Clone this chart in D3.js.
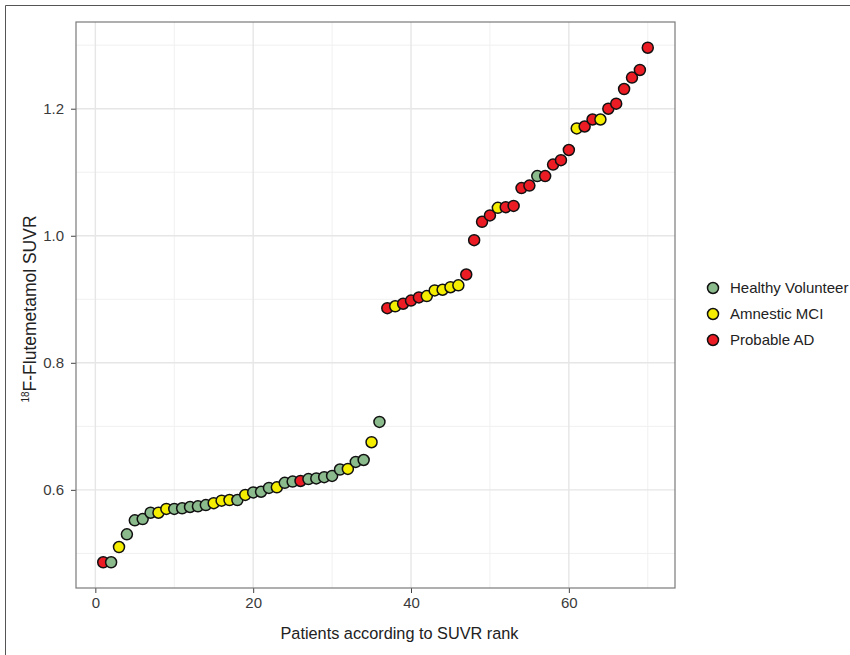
<!DOCTYPE html>
<html>
<head>
<meta charset="utf-8">
<script src="https://cdn.jsdelivr.net/npm/d3@7"></script>
<style>
  html, body { margin: 0; padding: 0; background: #fff; }
  svg { display: block; font-family: "Liberation Sans", Arial, sans-serif; }
</style>
</head>
<body>
<svg id="chart" width="850" height="655"></svg>
<script>
// ---- data ----
const groups = ["Healthy Volunteer", "Amnestic MCI", "Probable AD"];
const groupColors = ["#8bbb8c", "#f5ee00", "#ec1c24"];
// group code per rank: H = healthy, M = MCI, A = AD
const groupCodes = [
  "A","H","M","H","H","H","H","M","M","H",
  "H","H","H","H","M","M","M","H","M","H",
  "H","H","M","H","H","A","H","H","H","H",
  "H","M","H","H","M","H","A","M","A","A",
  "A","M","M","M","M","M","A","A","A","A",
  "M","A","A","A","A","H","A","A","A","A",
  "M","A","A","M","A","A","A","A","A","A"
];
const suvr = [
  0.486, 0.486, 0.510, 0.530, 0.552, 0.554, 0.564, 0.564, 0.570, 0.570,
  0.571, 0.573, 0.574, 0.576, 0.579, 0.583, 0.584, 0.584, 0.592, 0.596,
  0.597, 0.603, 0.604, 0.611, 0.613, 0.614, 0.617, 0.618, 0.620, 0.622,
  0.632, 0.633, 0.644, 0.647, 0.675, 0.707, 0.886, 0.889, 0.893, 0.898,
  0.903, 0.905, 0.914, 0.915, 0.919, 0.922, 0.939, 0.993, 1.022, 1.032,
  1.044, 1.045, 1.047, 1.075, 1.079, 1.094, 1.094, 1.112, 1.119, 1.135,
  1.169, 1.172, 1.183, 1.183, 1.200, 1.208, 1.231, 1.249, 1.261, 1.296
];
const xTicks = [0, 20, 40, 60];
const xMinor = [10, 30, 50, 70];
const yTicks = [0.6, 0.8, 1.0, 1.2];
const yMinor = [0.5, 0.7, 0.9, 1.1, 1.3];
const xTitle = "Patients according to SUVR rank";

const data = suvr.map((v, i) => ({ rank: i + 1, value: v, group: groups["HMA".indexOf(groupCodes[i])] }));

// ---- layout ----
const svg = d3.select("#chart");
const P = { left: 76, right: 675, top: 22, bottom: 588 };

const xExt = d3.extent(data, d => d.rank);
const xPad = (xExt[1] - xExt[0]) * 0.05;
const yExt = d3.extent(data, d => d.value);
const yPad = (yExt[1] - yExt[0]) * 0.05;

const x = d3.scaleLinear().domain([xExt[0] - xPad, xExt[1] + xPad]).range([P.left, P.right]);
const y = d3.scaleLinear().domain([yExt[0] - yPad, yExt[1] + yPad]).range([P.bottom, P.top]);
const color = d3.scaleOrdinal().domain(groups).range(groupColors);

// outer figure frame (left + top)
svg.append("line").attr("x1", 5.5).attr("x2", 5.5).attr("y1", 5.5).attr("y2", 655).attr("stroke", "#555").attr("stroke-width", 1);
svg.append("line").attr("x1", 5.5).attr("x2", 850).attr("y1", 5.5).attr("y2", 5.5).attr("stroke", "#555").attr("stroke-width", 1);

// panel background
svg.append("rect").attr("x", P.left).attr("y", P.top)
  .attr("width", P.right - P.left).attr("height", P.bottom - P.top).attr("fill", "#fff");

const grid = svg.append("g");
// minor grid
grid.selectAll(".xm").data(xMinor).join("line")
  .attr("x1", d => x(d)).attr("x2", d => x(d)).attr("y1", P.top).attr("y2", P.bottom)
  .attr("stroke", "#f0f0f0").attr("stroke-width", 1);
grid.selectAll(".ym").data(yMinor).join("line")
  .attr("y1", d => y(d)).attr("y2", d => y(d)).attr("x1", P.left).attr("x2", P.right)
  .attr("stroke", "#f0f0f0").attr("stroke-width", 1);
// major grid
grid.selectAll(".xM").data(xTicks).join("line")
  .attr("x1", d => x(d)).attr("x2", d => x(d)).attr("y1", P.top).attr("y2", P.bottom)
  .attr("stroke", "#e6e6e6").attr("stroke-width", 1.4);
grid.selectAll(".yM").data(yTicks).join("line")
  .attr("y1", d => y(d)).attr("y2", d => y(d)).attr("x1", P.left).attr("x2", P.right)
  .attr("stroke", "#e6e6e6").attr("stroke-width", 1.4);

// axes
const xAxis = d3.axisBottom(x).tickValues(xTicks).tickFormat(d3.format("d")).tickSize(5).tickPadding(4);
const yAxis = d3.axisLeft(y).tickValues(yTicks).tickFormat(d3.format(".1f")).tickSize(5).tickPadding(7);

const gx = svg.append("g").attr("transform", `translate(0,${P.bottom})`).call(xAxis);
const gy = svg.append("g").attr("transform", `translate(${P.left},0)`).call(yAxis);
[gx, gy].forEach(g => {
  g.select(".domain").remove();
  g.selectAll(".tick line").attr("stroke", "#444").attr("stroke-width", 1);
  g.selectAll(".tick text").attr("fill", "#3a3a3a").attr("font-size", 15)
    .attr("font-family", "'Liberation Sans', Arial, sans-serif");
});

// panel border
svg.append("rect").attr("x", P.left).attr("y", P.top)
  .attr("width", P.right - P.left).attr("height", P.bottom - P.top)
  .attr("fill", "none").attr("stroke", "#7a7a7a").attr("stroke-width", 1.2);

// points
svg.append("g").selectAll("circle").data(data).join("circle")
  .attr("cx", d => x(d.rank)).attr("cy", d => y(d.value)).attr("r", 5.5)
  .attr("fill", d => color(d.group)).attr("stroke", "#111").attr("stroke-width", 1.5);

// axis titles
svg.append("text").attr("x", (P.left + P.right) / 2 + 24).attr("y", 639)
  .attr("text-anchor", "middle").attr("font-size", 16.3).attr("fill", "#222").text(xTitle);

const yt = svg.append("text").attr("transform", `translate(36,${(P.top + P.bottom) / 2 + 4}) rotate(-90)`)
  .attr("text-anchor", "middle").attr("font-size", 17.5).attr("fill", "#222");
yt.append("tspan").attr("font-size", 10).attr("dy", -7).text("18");
yt.append("tspan").attr("dy", 7).text("F-Flutemetamol SUVR");

// legend
const lg = svg.append("g").attr("transform", "translate(713,288)");
const li = lg.selectAll("g").data(groups).join("g").attr("transform", (d, i) => `translate(0,${i * 26})`);
li.append("circle").attr("r", 5.5).attr("fill", d => color(d)).attr("stroke", "#111").attr("stroke-width", 1.5);
li.append("text").attr("x", 17).attr("y", 5).attr("font-size", 15).attr("fill", "#222").text(d => d);
</script>
</body>
</html>
